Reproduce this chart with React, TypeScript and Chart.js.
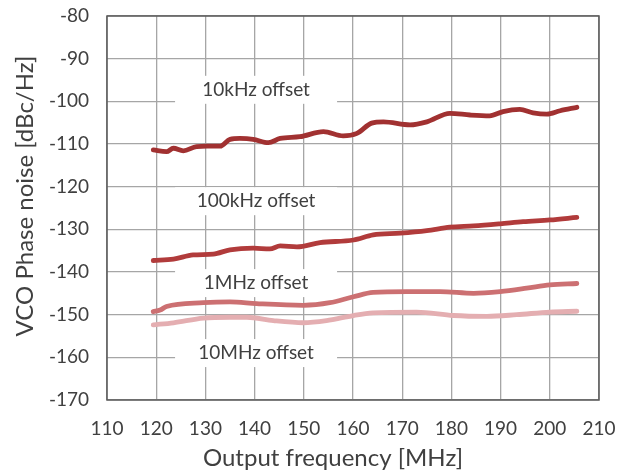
import React, { useEffect, useRef } from "react";
import { Chart, registerables } from "chart.js";

Chart.register(...registerables);

// Output frequency [MHz] and phase noise [dBc/Hz] for each offset
const freq10k = [119.4, 122.1, 123.5, 125.5, 128.2, 130.3, 133.0, 135.0, 137.0, 139.7, 142.8, 145.2, 149.2, 154.0, 158.0, 160.8, 163.8, 166.2, 171.6, 175.0, 179.7, 183.8, 187.8, 190.5, 193.9, 196.6, 199.4, 202.1, 205.5];
const noise10k = [-111.4, -111.8, -111.0, -111.6, -110.6, -110.5, -110.5, -108.9, -108.7, -108.9, -109.7, -108.7, -108.3, -107.1, -108.1, -107.5, -105.1, -104.8, -105.5, -104.8, -102.8, -103.2, -103.4, -102.4, -101.9, -102.7, -103.0, -102.2, -101.4];

const freq100k = [119.4, 123.5, 127.5, 131.6, 135.0, 139.7, 143.1, 145.2, 148.6, 153.3, 160.1, 164.1, 169.6, 175.0, 179.7, 184.5, 189.9, 194.6, 200.0, 205.5];
const noise100k = [-137.3, -137.0, -136.0, -135.8, -134.8, -134.4, -134.6, -133.9, -134.1, -133.1, -132.5, -131.3, -130.9, -130.3, -129.5, -129.2, -128.7, -128.2, -127.8, -127.2];

const freq1M = [119.4, 120.8, 122.1, 129.6, 135.0, 140.4, 149.9, 155.3, 160.1, 164.1, 170.9, 177.7, 184.5, 189.9, 195.3, 200.0, 205.5];
const noise1M = [-149.3, -148.9, -148.1, -147.2, -147.0, -147.4, -147.8, -147.2, -145.8, -144.8, -144.6, -144.6, -145.0, -144.6, -143.8, -143.0, -142.7];

const freq10M = [119.4, 123.5, 129.6, 135.0, 138.4, 143.8, 149.9, 154.6, 160.1, 164.1, 172.9, 180.4, 187.2, 193.3, 200.0, 205.5];
const noise10M = [-152.4, -151.9, -150.8, -150.6, -150.6, -151.4, -151.9, -151.4, -150.2, -149.6, -149.4, -150.2, -150.4, -150.0, -149.4, -149.2];

const seriesNames = ["10kHz offset", "100kHz offset", "1MHz offset", "10MHz offset"];
const labelValues = [-97.3, -123.4, -142.6, -159.0];
const labelFreq = 140.3;

const xMin = 110;
const xMax = 210;
const yMin = -170;
const yMax = -80;
const tickStep = 10;

const xTitle = "Output frequency [MHz]";
const yTitle = "VCO Phase noise [dBc/Hz]";

const FONT = "Lato, 'Open Sans', sans-serif";
const TEXT = "#404040";

const decorPlugin = {
  id: "decor",
  beforeDatasetsDraw(chart: any) {
    const { ctx, scales } = chart;
    const xs = scales.x;
    const ys = scales.y;
    ctx.save();
    ctx.font = `19px ${FONT}`;
    ctx.textAlign = "center";
    ctx.textBaseline = "middle";
    seriesNames.forEach((name, i) => {
      const cx = xs.getPixelForValue(labelFreq);
      const cy = ys.getPixelForValue(labelValues[i]);
      ctx.fillStyle = "#ffffff";
      ctx.fillRect(cx - 81, cy - 14, 162, 28);
      ctx.fillStyle = TEXT;
      ctx.fillText(name, cx, cy);
    });
    ctx.restore();
  },
  afterDraw(chart: any) {
    const { ctx, chartArea } = chart;
    ctx.save();
    ctx.strokeStyle = "#5a5a5a";
    ctx.lineWidth = 1.5;
    ctx.strokeRect(chartArea.left, chartArea.top, chartArea.right - chartArea.left, chartArea.bottom - chartArea.top);
    ctx.fillStyle = TEXT;
    ctx.font = `24px ${FONT}`;
    ctx.textAlign = "center";
    ctx.textBaseline = "middle";
    ctx.fillText(xTitle, chartArea.left + 226, chartArea.bottom + 58);
    ctx.translate(25, chartArea.top + 180);
    ctx.rotate(-Math.PI / 2);
    ctx.fillText(yTitle, 0, 0);
    ctx.restore();
  },
};

function toPoints(xs: number[], ys: number[]) {
  return xs.map((x, i) => ({ x, y: ys[i] }));
}

export default function App() {
  const ref = useRef<HTMLCanvasElement | null>(null);
  useEffect(() => {
    if (!ref.current) return;
    const mk = (i: number, xs: number[], ys: number[], color: string) => ({
      label: seriesNames[i],
      data: toPoints(xs, ys),
      borderColor: color,
      backgroundColor: color,
      borderWidth: 4.8,
      pointRadius: 0,
      tension: 0.4,
      cubicInterpolationMode: "monotone" as const,
      borderCapStyle: "round" as const,
      fill: false,
    });
    const chart = new Chart(ref.current, {
      type: "line",
      data: {
        datasets: [
          mk(0, freq10k, noise10k, "#a13131"),
          mk(1, freq100k, noise100k, "#b13b3b"),
          mk(2, freq1M, noise1M, "#cc7072"),
          mk(3, freq10M, noise10M, "#e4aeb1"),
        ],
      },
      options: {
        animation: false,
        responsive: false,
        maintainAspectRatio: false,
        layout: { padding: { left: 0, top: 16, right: 33, bottom: 0 } },
        plugins: { legend: { display: false }, tooltip: { enabled: false }, title: { display: false } },
        scales: {
          x: {
            type: "linear",
            min: xMin,
            max: xMax,
            border: { display: false },
            grid: { color: "#a6a6a6", lineWidth: 1.3, drawTicks: false },
            ticks: { stepSize: tickStep, padding: 17, color: TEXT, font: { family: FONT, size: 19 } },
            afterFit(s: any) { s.height = 74; s.paddingLeft = 0; s.paddingRight = 0; },
          },
          y: {
            type: "linear",
            min: yMin,
            max: yMax,
            border: { display: false },
            grid: { color: "#a6a6a6", lineWidth: 1.3, drawTicks: false },
            ticks: { stepSize: tickStep, padding: 18, color: TEXT, font: { family: FONT, size: 19 } },
            afterFit(s: any) { s.width = 107; s.paddingTop = 0; s.paddingBottom = 0; },
          },
        },
      },
      plugins: [decorPlugin],
    });
    return () => chart.destroy();
  }, []);
  return (
    <div style={{ position: "absolute", left: 0, top: 0, width: 632, height: 474, background: "#fff" }}>
      <canvas ref={ref} width={632} height={474} style={{ display: "block" }} />
    </div>
  );
}
